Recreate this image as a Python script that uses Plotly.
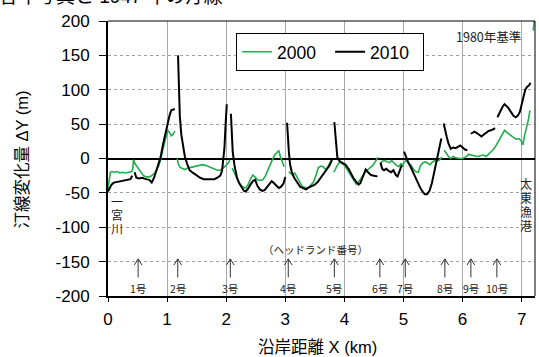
import plotly.graph_objects as go

# Shoreline change ΔY (m) relative to 1980, alongshore distance X (km).
# None separates the stretches between headlands.
x_2010 = [0, 0.03, 0.06, 0.1, 0.15, 0.2, 0.25, 0.3, 0.35, 0.38, 0.41, None,
          0.45, 0.48, 0.52, 0.58, 0.64, 0.7, 0.74, 0.78, 0.82, 0.86, 0.89, 0.93, 0.97, 1.0, 1.04, 1.07, 1.1, 1.13, None,
          1.185, 1.19, 1.2, 1.215, 1.24, 1.27, 1.3, 1.34, 1.38, 1.44, 1.5, 1.56, 1.62, 1.68, 1.74, 1.8, 1.85, 1.9,
          1.93, 1.95, 1.97, 1.99, 2.01, None,
          2.08, 2.09, 2.11, 2.14, 2.18, 2.22, 2.26, 2.3, 2.33, 2.37, 2.41, 2.45, 2.49, 2.53, 2.57, 2.61, 2.65, 2.69,
          2.73, 2.77, 2.81, 2.85, 2.89, 2.93, 2.97, 3.0, None,
          3.03, 3.04, 3.06, 3.08, 3.11, 3.15, 3.2, 3.25, 3.3, 3.35, 3.4, 3.45, 3.5, 3.55, 3.6, 3.65, 3.7, 3.75, 3.79, None,
          3.83, 3.845, 3.86, 3.88, 3.92, 3.97, 4.02, 4.07, 4.11, 4.15, 4.2, 4.24, 4.27, 4.3, 4.33, 4.36, 4.4, 4.45,
          4.5, 4.56, None,
          4.61, 4.64, 4.67, 4.71, 4.75, 4.79, 4.83, 4.87, 4.9, 4.93, 4.97, None,
          5.01, 5.04, 5.08, 5.12, 5.16, 5.2, 5.24, 5.28, 5.32, 5.36, 5.4, 5.44, 5.48, 5.51, 5.54, 5.58, 5.62, 5.64, None,
          5.68, 5.7, 5.73, 5.76, 5.8, 5.84, 5.88, 5.92, 5.96, 6.0, 6.04, 6.08, None,
          6.14, 6.17, 6.2, 6.24, 6.28, 6.32, 6.36, 6.4, 6.44, 6.48, 6.51, 6.55, None,
          6.59, 6.62, 6.65, 6.68, 6.71, 6.74, 6.77, 6.8, 6.83, 6.86, 6.9, 6.94, 6.97, 7.0, 7.03, 7.06, 7.09, 7.12, 7.15]
y_2010 = [-48, -42, -38, -35, -34, -33, -32, -32, -31, -30, -25, None,
          -20, -28, -29, -28, -30, -31, -35, -28, -17, -5, 2, 20, 35, 50, 62, 70, 71, 72, None,
          150, 130, 95, 62, 35, 17, 3, -8, -17, -21, -25, -28, -30, -30, -31, -30, -28, -25,
          -18, -5, 15, 50, 79, None,
          65, 40, 10, -10, -27, -36, -42, -47, -48, -44, -38, -33, -31, -40, -45, -47, -46, -42,
          -37, -33, -36, -40, -43, -41, -36, -27, None,
          52, 35, 10, -8, -20, -28, -35, -41, -43, -45, -42, -40, -38, -34, -28, -22, -17, -10, -2, None,
          53, 35, 15, 2, -4, -7, -9, -15, -22, -28, -34, -38, -36, -30, -22, -16, -20, -24,
          -25, -26, None,
          -6, -15, -17, -15, -18, -20, -17, -24, -26, -20, -10, None,
          10, 2, -6, -12, -20, -27, -35, -42, -48, -52, -52, -47, -36, -24, -12, 5, 20, 29, None,
          51, 42, 32, 22, 14, 16, 15, 17, 19, 16, 13, 12, None,
          36, 37, 39, 37, 34, 32, 35, 38, 40, 41, 42, 44, None,
          60, 66, 72, 76, 79, 77, 74, 70, 65, 62, 60, 63, 68, 80, 92, 100, 104, 106, 110]

x_2000 = [0, 0.02, 0.04, 0.07, 0.1, 0.15, 0.2, 0.25, 0.3, 0.35, 0.4, 0.42, 0.43, 0.46, 0.5, 0.55, 0.6, 0.66,
          0.72, 0.78, 0.82, 0.86, 0.89, 0.92, 0.95, 0.98, 1.01, 1.04, 1.07, 1.1, 1.13, None,
          1.17, 1.19, 1.22, 1.26, 1.3, 1.35, 1.4, 1.45, 1.5, 1.55, 1.6, 1.65, 1.7, 1.75, 1.8, 1.85, 1.9, 1.95,
          2.0, 2.04, 2.06, None,
          2.1, 2.13, 2.17, 2.21, 2.25, 2.29, 2.33, 2.37, 2.41, 2.45, 2.49, 2.53, 2.57, 2.62, 2.66, 2.7, 2.74,
          2.78, 2.82, 2.86, 2.89, 2.92, 2.95, 2.98, None,
          3.06, 3.09, 3.12, 3.16, 3.2, 3.24, 3.28, 3.32, 3.36, 3.4, 3.44, 3.48, 3.52, 3.56, 3.6, 3.64, 3.68,
          3.72, 3.76, 3.78, None,
          3.82, 3.85, 3.88, 3.92, 3.96, 4.0, 4.04, 4.08, 4.12, 4.16, 4.2, 4.24, 4.28, 4.32, 4.36, 4.4, 4.44,
          4.48, 4.52, 4.57, None,
          4.61, 4.64, 4.68, 4.72, 4.76, 4.8, 4.84, 4.88, 4.92, 4.96, 4.98, 5.01, 5.05, 5.09, 5.13, 5.17, 5.21,
          5.25, 5.29, 5.33, 5.37, 5.41, 5.45, 5.49, 5.53, 5.57, 5.61, 5.65, None,
          5.69, 5.72, 5.76, 5.8, 5.84, 5.88, 5.92, 5.96, 6.0, 6.05, 6.1, 6.15, 6.2, 6.25, 6.3, 6.35, 6.4,
          6.44, 6.48, 6.52, 6.56, 6.6, 6.64, 6.68, 6.71, 6.75, 6.79, 6.83, 6.87, 6.91, 6.95, 6.99, 7.02,
          7.05, 7.08, 7.11, 7.14, None,
          7.195, 7.225]
y_2000 = [-44, -30, -20, -19, -20, -19, -21, -20, -21, -20, -19, -15, -2, -8, -13, -20, -25, -27,
          -26, -22, -17, -10, -2, 10, 22, 33, 41, 38, 33, 35, 40, None,
          0, -8, -13, -15, -16, -14, -13, -12, -11, -10, -9, -10, -12, -14, -16, -17, -17, -14,
          -10, -6, -2, None,
          -14, -20, -27, -34, -39, -42, -43, -38, -30, -24, -27, -31, -32, -31, -26, -19, -10,
          -2, 5, 9, 11, 2, -6, -12, None,
          -19, -22, -24, -21, -28, -35, -40, -42, -43, -42, -38, -34, -24, -13, -11, -12, -16,
          -12, -5, -3, None,
          -20, -14, -10, -5, -7, -10, -15, -21, -27, -33, -37, -34, -29, -23, -19, -16, -13,
          -10, -5, 2, None,
          -7, -4, -3, -4, -6, -3, -7, -10, -12, -7, -12, -5, -3, -6, -10, -16, -19,
          -20, -10, -6, -5, -7, -9, -5, -3, -4, -2, 2, None,
          12, 8, 3, 0, 3, 1, 0, 0, 0, 2, 6, 5, 4, 3, 4, 5, 3,
          6, 10, 13, 18, 24, 31, 37, 41, 38, 35, 32, 30, 28, 29, 26, 20,
          34, 44, 55, 70, None,
          186, 210]

# Headland positions (km) and their labels
headland_x = [0.51, 1.18, 2.07, 3.05, 3.83, 4.6, 5.03, 5.7, 6.14, 6.58]
headland_names = ["1号", "2号", "3号", "4号", "5号", "6号", "7号", "8号", "9号", "10号"]

# Place names written vertically at both ends of the coast
river_name = "一宮川"
port_name = "太東漁港"

x_ticks = [0, 1, 2, 3, 4, 5, 6, 7]
y_ticks = [-200, -150, -100, -50, 0, 50, 100, 150, 200]
y_tick_text = ["-200", "-150", "-100", "-50", "0", "50", "100", "150", "200"]

GREEN = "#1fae4b"
CJK = "Noto Sans CJK JP"
LATIN = "Liberation Sans, Arial, Noto Sans CJK JP"

# Arrow geometry for headland markers (data units)
tip_y, tail_y, head_h, head_w = -146, -173, 9, 0.065
arrow_x, arrow_y = [], []
for hx in headland_x:
    arrow_x += [hx, hx, None, hx - head_w, hx, hx + head_w, None]
    arrow_y += [tail_y, tip_y, None, tip_y - head_h, tip_y, tip_y - head_h, None]

fig = go.Figure()
fig.add_trace(go.Scatter(x=x_2000, y=y_2000, mode="lines", name="2000",
                         line=dict(color=GREEN, width=1.6), connectgaps=False))
fig.add_trace(go.Scatter(x=x_2010, y=y_2010, mode="lines", name="2010",
                         line=dict(color="black", width=2), connectgaps=False))
fig.add_trace(go.Scatter(x=arrow_x, y=arrow_y, mode="lines", showlegend=False,
                         line=dict(color="#333333", width=1), hoverinfo="skip"))

annotations = []
for hx, name in zip(headland_x, headland_names):
    annotations.append(dict(x=hx, y=-189, text=name, showarrow=False,
                            font=dict(family=CJK, size=10.5, color="#222")))


def vertical_text(text, x, y_top, step):
    """One annotation per character, stacked downward."""
    out = []
    for i, ch in enumerate(text):
        out.append(dict(x=x, y=y_top - i * step, text=ch, showarrow=False,
                        font=dict(family=CJK, size=12, color="#222")))
    return out


annotations += vertical_text(river_name, 0.15, -62, 20)
annotations += vertical_text(port_name, 7.07, -37, 20)
annotations += [
    dict(x=3.51, y=-132, text="（ヘッドランド番号）", showarrow=False,
         font=dict(family=CJK, size=10.5, color="#222")),
    dict(x=6.44, y=177, text="1980年基準", showarrow=False,
         font=dict(family=CJK, size=12.5, color="#222")),
    dict(xref="paper", yref="paper", x=-0.2014, y=0.496, xanchor="center", yanchor="middle",
         text="汀線変化量 ΔY (m)", textangle=-90, showarrow=False,
         font=dict(family=LATIN, size=16.5, color="black")),
    dict(xref="paper", yref="paper", x=0.49, y=-0.185, xanchor="center", yanchor="middle",
         text="沿岸距離 X (km)", showarrow=False,
         font=dict(family=LATIN, size=16.5, color="black")),
    dict(xref="paper", yref="paper", x=-0.26, y=1.045, xanchor="left", yanchor="bottom",
         text="各年写真と 1947 年の汀線", showarrow=False,
         font=dict(family=LATIN, size=19, color="black")),
]

fig.update_layout(
    width=539, height=357,
    margin=dict(l=108, r=4, t=21, b=61),
    paper_bgcolor="white", plot_bgcolor="white",
    font=dict(family=LATIN, color="black"),
    showlegend=True,
    legend=dict(orientation="h", x=0.3, y=0.957, xanchor="left", yanchor="top",
                bgcolor="white", bordercolor="black", borderwidth=1,
                font=dict(family=LATIN, size=17.5), entrywidth=48, itemwidth=30,
                tracegroupgap=0),
    annotations=annotations,
    shapes=[
        dict(type="line", xref="paper", yref="paper", x0=0, x1=1, y0=1, y1=1,
             line=dict(color="black", width=1)),
        dict(type="line", xref="paper", yref="paper", x0=1, x1=1, y0=0, y1=1,
             line=dict(color="black", width=1)),
    ],
)
fig.update_xaxes(range=[0, 7.225], tickvals=x_ticks, showgrid=True, gridcolor="#a8a8a8",
                 gridwidth=1, zeroline=False, showline=True, linecolor="black", linewidth=2,
                 ticks="outside", ticklen=4, tickcolor="black", ticklabelstandoff=3,
                 tickfont=dict(family=LATIN, size=17))
fig.update_yaxes(range=[-200, 200], tickvals=y_ticks, ticktext=y_tick_text, showgrid=True,
                 gridcolor="#a0a0a0", griddash="dot", gridwidth=1, zeroline=True,
                 zerolinecolor="black", zerolinewidth=1.5, showline=True, linecolor="black",
                 linewidth=2, ticks="outside", ticklen=7, tickcolor="black", ticklabelstandoff=6,
                 tickfont=dict(family=LATIN, size=17))

fig.write_html("out.html")
